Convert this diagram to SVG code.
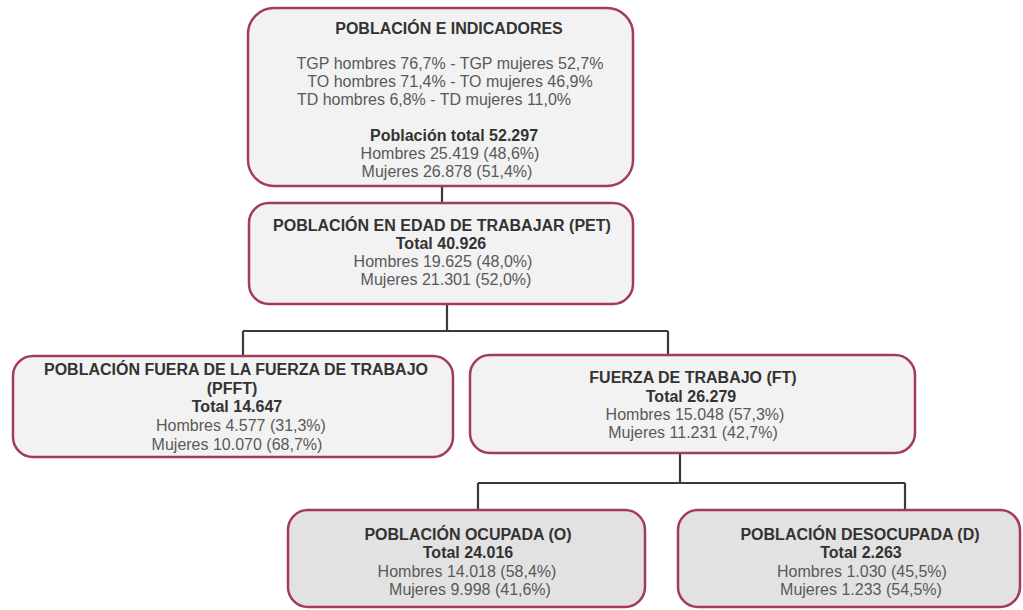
<svg xmlns="http://www.w3.org/2000/svg" width="1023" height="610" viewBox="0 0 1023 610">
<style>
.box{fill:#f2f2f2;stroke:#a33b5f;stroke-width:2.5}
.box2{fill:#e2e2e2;stroke:#a33b5f;stroke-width:2.5}
.t{font-family:"Liberation Sans",Arial,sans-serif;font-size:16px;text-anchor:middle;fill:#595959}
.b{font-weight:bold;fill:#333}
.c{fill:none;stroke:#3a3a3a;stroke-width:2.2}
</style>
<rect width="1023" height="610" fill="#ffffff"/>
<g id="connectors">
<path class="c" d="M442 186V203"/>
<path class="c" d="M447 304V331M243 331H668M243 331V356M668 331V355"/>
<path class="c" d="M680 453V483M478 483H905M478 483V510M905 483V510"/>
</g>
<g id="poblacion">
<rect class="box" x="248" y="8" width="385" height="178" rx="26"/>
<text class="t b" x="449" y="34">POBLACIÓN E INDICADORES</text>
<text class="t" x="450" y="69">TGP hombres 76,7% - TGP mujeres 52,7%</text>
<text class="t" x="450" y="87">TO hombres 71,4% - TO mujeres 46,9%</text>
<text class="t" x="434" y="105">TD hombres 6,8% - TD mujeres 11,0%</text>
<text class="t b" x="454" y="141">Población total 52.297</text>
<text class="t" x="450" y="159">Hombres 25.419 (48,6%)</text>
<text class="t" x="447" y="177">Mujeres 26.878 (51,4%)</text>
</g>
<g id="pet">
<rect class="box" x="249" y="203" width="384" height="101" rx="20"/>
<text class="t b" x="442" y="231">POBLACIÓN EN EDAD DE TRABAJAR (PET)</text>
<text class="t b" x="441" y="249">Total 40.926</text>
<text class="t" x="443" y="267">Hombres 19.625 (48,0%)</text>
<text class="t" x="446" y="285">Mujeres 21.301 (52,0%)</text>
</g>
<g id="pfft">
<rect class="box" x="13" y="356" width="440" height="101" rx="20"/>
<text class="t b" x="236" y="375">POBLACIÓN FUERA DE LA FUERZA DE TRABAJO</text>
<text class="t b" x="232" y="394">(PFFT)</text>
<text class="t b" x="237" y="412">Total 14.647</text>
<text class="t" x="241" y="431">Hombres 4.577 (31,3%)</text>
<text class="t" x="237" y="450">Mujeres 10.070 (68,7%)</text>
</g>
<g id="ft">
<rect class="box" x="470" y="355" width="445" height="98" rx="20"/>
<text class="t b" x="693" y="383">FUERZA DE TRABAJO (FT)</text>
<text class="t b" x="691" y="402">Total 26.279</text>
<text class="t" x="695" y="420">Hombres 15.048 (57,3%)</text>
<text class="t" x="693" y="438">Mujeres 11.231 (42,7%)</text>
</g>
<g id="ocupada">
<rect class="box2" x="288" y="510" width="357" height="97" rx="20"/>
<text class="t b" x="468" y="540">POBLACIÓN OCUPADA (O)</text>
<text class="t b" x="468" y="558">Total 24.016</text>
<text class="t" x="467" y="577">Hombres 14.018 (58,4%)</text>
<text class="t" x="470" y="595">Mujeres 9.998 (41,6%)</text>
</g>
<g id="desocupada">
<rect class="box2" x="678" y="510" width="342" height="97" rx="20"/>
<text class="t b" x="860" y="540">POBLACIÓN DESOCUPADA (D)</text>
<text class="t b" x="861" y="558">Total 2.263</text>
<text class="t" x="862" y="577">Hombres 1.030 (45,5%)</text>
<text class="t" x="861" y="595">Mujeres 1.233 (54,5%)</text>
</g>
</svg>
